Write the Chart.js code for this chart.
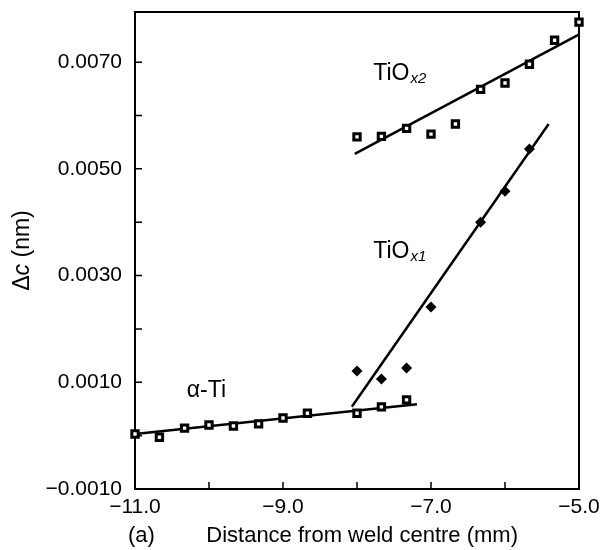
<!DOCTYPE html>
<html>
<head>
<meta charset="utf-8">
<script src="https://cdn.jsdelivr.net/npm/chart.js@4.4.0/dist/chart.umd.min.js"></script>
<style>
  html, body { margin: 0; padding: 0; background: #fff; }
</style>
</head>
<body>
<canvas id="chart" width="612" height="550"></canvas>
<script>
// Values
const alphaX = [-11.0, -10.67, -10.33, -10.0, -9.67, -9.33, -9.0, -8.67, -8.0, -7.67, -7.33];
const alphaY = [0.00003, -0.00003, 0.00014, 0.00020, 0.00018, 0.00022, 0.00033, 0.00042, 0.00042, 0.00054, 0.00067];

const tiox1X = [-8.0, -7.67, -7.33, -7.0, -6.33, -6.0, -5.67];
const tiox1Y = [0.00121, 0.00106, 0.00127, 0.00241, 0.00400, 0.00458, 0.00537];

const tiox2X = [-8.0, -7.67, -7.33, -7.0, -6.67, -6.33, -6.0, -5.67, -5.33, -5.0];
const tiox2Y = [0.00560, 0.00561, 0.00576, 0.00565, 0.00584, 0.00649, 0.00661, 0.00696, 0.00741, 0.00775];

// Fitted straight lines (end points)
const alphaFitX = [-11.0, -7.19];
const alphaFitY = [0.00003, 0.00059];
const tiox1FitX = [-8.07, -5.41];
const tiox1FitY = [0.00054, 0.00584];
const tiox2FitX = [-8.03, -5.01];
const tiox2FitY = [0.00528, 0.00751];

// Axis ticks
const xLabelled = [-11, -9, -7, -5];
const yLabelled = [-0.001, 0.001, 0.003, 0.005, 0.007];

const FONT = '"Liberation Sans", Arial, Helvetica, sans-serif';

const toPoints = (xs, ys) => xs.map((x, i) => ({ x: x, y: ys[i] }));
const minus = s => s.replace('-', '\u2212');

// Inward tick marks + frame
const framePlugin = {
    id: 'frame',
    beforeDatasetsDraw(chart) {
        const { ctx, chartArea, scales } = chart;
        ctx.save();
        ctx.strokeStyle = '#000';
        ctx.lineWidth = 2;
        ctx.strokeRect(chartArea.left, chartArea.top, chartArea.right - chartArea.left, chartArea.bottom - chartArea.top);
        ctx.lineWidth = 1.5;
        ctx.beginPath();
        scales.x.ticks.forEach(t => {
            const px = scales.x.getPixelForValue(t.value);
            ctx.moveTo(px, chartArea.bottom);
            ctx.lineTo(px, chartArea.bottom - 7);
        });
        scales.y.ticks.forEach(t => {
            const py = scales.y.getPixelForValue(t.value);
            ctx.moveTo(chartArea.left, py);
            ctx.lineTo(chartArea.left + 7, py);
        });
        ctx.stroke();
        ctx.restore();
    }
};

// Text labels drawn on the canvas
const labelsPlugin = {
    id: 'labels',
    afterDraw(chart) {
        const { ctx, scales, chartArea } = chart;
        const sx = scales.x, sy = scales.y;
        ctx.save();
        ctx.fillStyle = '#000';
        ctx.textBaseline = 'alphabetic';
        ctx.textAlign = 'left';

        function phase(x, y, main, sub) {
            let px = sx.getPixelForValue(x);
            const py = sy.getPixelForValue(y);
            ctx.font = '23px ' + FONT;
            ctx.fillText(main, px, py);
            if (sub) {
                px += ctx.measureText(main).width + 1;
                ctx.font = 'italic 15px ' + FONT;
                ctx.fillText(sub, px, py + 3);
            }
        }
        phase(-7.78, 0.00666, 'TiO', 'x2');
        phase(-7.78, 0.00333, 'TiO', 'x1');
        phase(-10.30, 0.00072, '\u03b1-Ti');

        // y axis title
        ctx.save();
        const cy = (chartArea.top + chartArea.bottom) / 2;
        ctx.translate(29, cy);
        ctx.rotate(-Math.PI / 2);
        ctx.font = '23px ' + FONT;
        const w1 = ctx.measureText('\u0394').width;
        const w3 = ctx.measureText(' (nm)').width;
        ctx.font = 'italic 23px ' + FONT;
        const w2 = ctx.measureText('c').width;
        let x0 = -(w1 + w2 + w3) / 2;
        ctx.font = '23px ' + FONT;
        ctx.fillText('\u0394', x0, 0);
        ctx.font = 'italic 23px ' + FONT;
        ctx.fillText('c', x0 + w1, 0);
        ctx.font = '23px ' + FONT;
        ctx.fillText(' (nm)', x0 + w1 + w2, 0);
        ctx.restore();

        // x axis title
        ctx.font = '22px ' + FONT;
        ctx.fillText('(a)', 128, 542);
        ctx.textAlign = 'right';
        ctx.fillText('Distance from weld centre (mm)', 518, 542);
        ctx.restore();
    }
};

const markerSquare = {
    pointStyle: 'rect',
    pointRadius: 4.5,
    pointBorderWidth: 3,
    pointBorderColor: '#000',
    pointBackgroundColor: '#fff',
    showLine: false,
    clip: false
};

const fitLine = {
    type: 'line',
    borderColor: '#000',
    borderWidth: 2.5,
    pointRadius: 0,
    fill: false,
    clip: false
};

new Chart(document.getElementById('chart'), {
    type: 'scatter',
    data: {
        datasets: [
            { label: 'alpha-Ti', data: toPoints(alphaX, alphaY), ...markerSquare },
            { label: 'TiOx2', data: toPoints(tiox2X, tiox2Y), ...markerSquare },
            {
                label: 'TiOx1',
                data: toPoints(tiox1X, tiox1Y),
                pointStyle: 'rectRot',
                pointRadius: 5.5,
                pointBorderWidth: 0,
                pointBackgroundColor: '#000',
                showLine: false,
                clip: false
            },
            { label: 'alpha-Ti fit', data: toPoints(alphaFitX, alphaFitY), ...fitLine },
            { label: 'TiOx1 fit', data: toPoints(tiox1FitX, tiox1FitY), ...fitLine },
            { label: 'TiOx2 fit', data: toPoints(tiox2FitX, tiox2FitY), ...fitLine }
        ]
    },
    options: {
        responsive: false,
        animation: false,
        layout: { padding: { top: 0, right: 33, left: 0, bottom: 0 } },
        plugins: {
            legend: { display: false },
            tooltip: { enabled: false }
        },
        scales: {
            x: {
                type: 'linear',
                min: -11,
                max: -5,
                grid: { display: false, drawTicks: false },
                border: { display: false },
                ticks: {
                    stepSize: 1,
                    padding: 6,
                    maxRotation: 0,
                    autoSkip: false,
                    color: '#000',
                    font: { family: FONT, size: 21 },
                    callback: function(value) {
                        return xLabelled.some(v => Math.abs(v - value) < 1e-6) ? minus(value.toFixed(1)) : '';
                    }
                },
                afterFit: function(scale) { scale.height = 61; }
            },
            y: {
                type: 'linear',
                min: -0.001,
                max: 0.00794,
                grid: { display: false, drawTicks: false },
                border: { display: false },
                ticks: {
                    stepSize: 0.001,
                    includeBounds: false,
                    padding: 13,
                    autoSkip: false,
                    color: '#000',
                    font: { family: FONT, size: 21 },
                    callback: function(value) {
                        return yLabelled.some(v => Math.abs(v - value) < 1e-8) ? minus(value.toFixed(4)) : '';
                    }
                },
                afterFit: function(scale) {
                    scale.width = 135;
                    scale.paddingTop = 12;
                    scale.paddingBottom = 0;
                }
            }
        }
    },
    plugins: [framePlugin, labelsPlugin]
});
</script>
</body>
</html>
